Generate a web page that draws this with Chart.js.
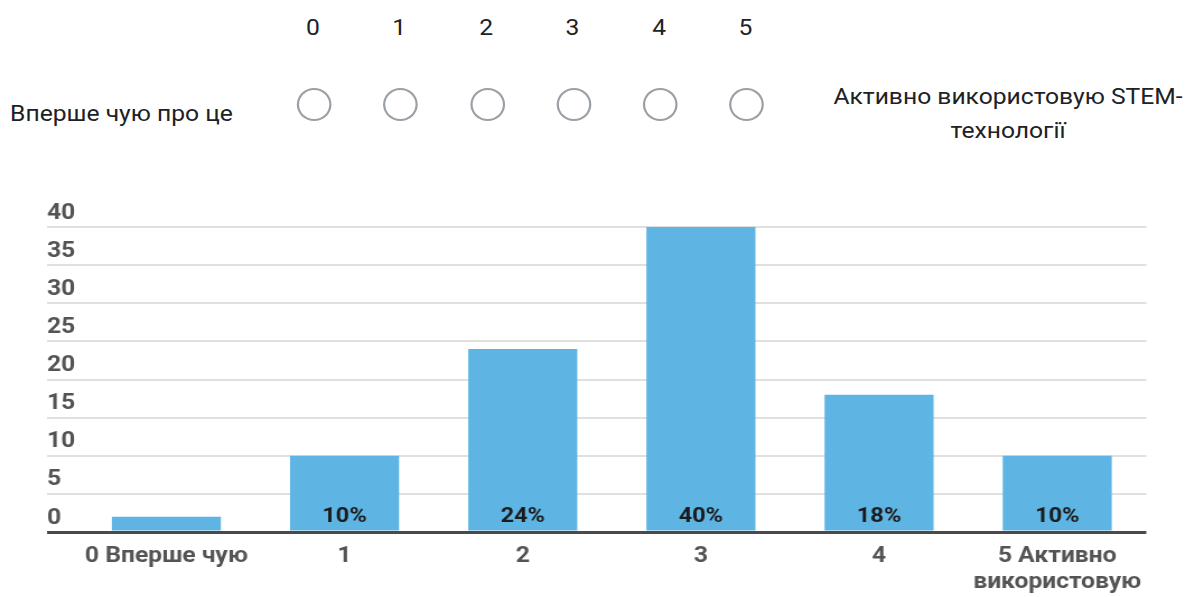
<!DOCTYPE html>
<html lang="uk">
<head>
<meta charset="utf-8">
<title>Рівень використання STEM-технологій</title>
<script src="https://cdn.jsdelivr.net/npm/chart.js@4/dist/chart.umd.min.js"></script>
<style>
  html, body { margin: 0; padding: 0; background: #fff; }
  body { width: 1189px; height: 597px; position: relative; overflow: hidden; font-family: Roboto, "Noto Sans", sans-serif; color: #202124; }
  /* the whole form is drawn a bit wider than tall */
  .stretch { position: absolute; left: 0; top: 0; width: 1062px; transform: scaleX(1.12); transform-origin: 0 0; }
  .scale { height: 170px; }
  .num { position: absolute; top: 15px; width: 40px; margin-left: -20px; text-align: center; font-size: 22px; }
  .radio { position: absolute; top: 88px; width: 27px; height: 29px; margin-left: -15.5px; border: 2.3px solid #9aa0a6; border-radius: 50%; }
  .low { position: absolute; left: 9px; top: 101px; font-size: 22px; }
  .high { position: absolute; left: 700px; width: 400px; top: 80px; font-size: 22px; line-height: 34px; text-align: center; }
  #chart-wrap { height: 597px; }
</style>
</head>
<body>
<div class="stretch scale" id="scale">
  <div class="low">Вперше чую про це</div>
  <div class="high">Активно використовую STEM-<br>технології</div>
</div>
<div class="stretch" id="chart-wrap"><canvas id="chart-stem"></canvas></div>
<script>
// scale points of the question and the answers per point
const scalePoints = ['0', '1', '2', '3', '4', '5'];
const categories = [['0 Вперше чую'], ['1'], ['2'], ['3'], ['4'], ['5 Активно', 'використовую']];
const answers = [2, 10, 24, 40, 18, 10];
const yTicks = [0, 5, 10, 15, 20, 25, 30, 35, 40];

// radio row above the chart
const scaleX = [279.5, 356.5, 434, 511, 588.5, 665.5];
const scaleEl = document.getElementById('scale');
scalePoints.forEach((p, i) => {
    const n = document.createElement('div');
    n.className = 'num';
    n.style.left = scaleX[i] + 'px';
    n.textContent = p;
    scaleEl.appendChild(n);
    const r = document.createElement('div');
    r.className = 'radio';
    r.style.left = (scaleX[i] + 1) + 'px';
    scaleEl.appendChild(r);
});

// percent labels drawn at the foot of each bar
const barLabels = {
    id: 'barLabels',
    afterDatasetsDraw(chart) {
        const ctx = chart.ctx;
        const meta = chart.getDatasetMeta(0);
        ctx.save();
        ctx.font = 'bold 21px Roboto';
        ctx.fillStyle = '#1b1b1b';
        ctx.textAlign = 'center';
        ctx.textBaseline = 'middle';
        meta.data.forEach((bar, i) => {
            const v = answers[i];
            if (v < 5) return;
            ctx.fillText(v + '%', bar.x, bar.base - 14);
        });
        ctx.restore();
    }
};

const gridColor = (c) => c.tick && c.tick.value === 0 ? '#4a4a4a' : '#e0e0e0';
const gridWidth = (c) => c.tick && c.tick.value === 0 ? 3 : 2;

new Chart(document.getElementById('chart-stem'), {
    type: 'bar',
    data: {
        labels: categories,
        datasets: [{
            data: answers,
            backgroundColor: '#5eb5e4',
            borderWidth: 0,
            categoryPercentage: 1,
            barPercentage: 0.612
        }]
    },
    options: {
        responsive: true,
        maintainAspectRatio: false,
        animation: false,
        layout: { padding: { top: 227, left: 42, right: 38.5, bottom: 0 } },
        plugins: { legend: { display: false }, tooltip: { enabled: false } },
        scales: {
            x: {
                offset: true,
                grid: { display: false, drawTicks: false },
                border: { display: false },
                ticks: {
                    color: '#545454',
                    font: { family: 'Roboto', size: 22, weight: 'bold', lineHeight: 1.18 },
                    padding: 12,
                    maxRotation: 0,
                    autoSkip: false
                },
                afterFit: (s) => { s.height = 65; }
            },
            y: {
                min: 0,
                max: 40,
                afterBuildTicks: (s) => { s.ticks = yTicks.map(v => ({ value: v })); },
                grid: { color: gridColor, lineWidth: gridWidth, tickLength: 27, tickColor: gridColor, tickWidth: gridWidth },
                border: { display: false },
                ticks: {
                    color: '#545454',
                    font: { family: 'Roboto', size: 22, weight: 'bold' },
                    crossAlign: 'far',
                    padding: 0,
                    labelOffset: -14
                },
                afterFit: (s) => { s.width = 27; }
            }
        }
    },
    plugins: [barLabels]
});
</script>
</body>
</html>
